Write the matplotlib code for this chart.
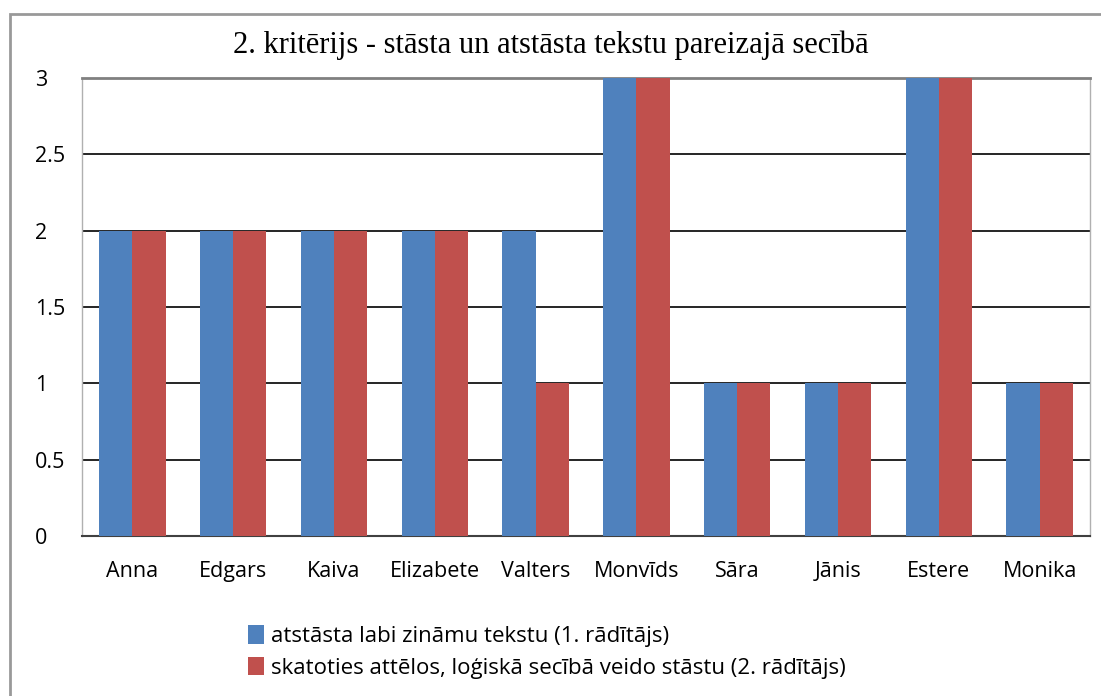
import numpy as np
import matplotlib.pyplot as plt
from matplotlib.patches import Rectangle

names = ["Anna", "Edgars", "Kaiva", "Elizabete", "Valters",
         "Monvīds", "Sāra", "Jānis", "Estere", "Monika"]
radit1 = [2, 2, 2, 2, 2, 3, 1, 1, 3, 1]
radit2 = [2, 2, 2, 2, 1, 3, 1, 1, 3, 1]
label1 = "atstāsta labi zināmu tekstu (1. rādītājs)"
label2 = "skatoties attēlos, loģiskā secībā veido stāstu (2. rādītājs)"
title = "2. kritērijs - stāsta un atstāsta tekstu pareizajā secībā"

sans = ["Open Sans", "DejaVu Sans"]

fig = plt.figure(figsize=(11.01, 6.96), dpi=100)
W, H = 1101, 696

# outer chart frame (cut off at right and bottom)
fig.patches.append(Rectangle((10 / W, -0.1), 1.2, 1 - 14 / H + 0.1,
                             transform=fig.transFigure, fill=False,
                             edgecolor="#999999", linewidth=2))

ax = fig.add_axes([82 / W, 1 - 536 / H, (1090 - 82) / W, (536 - 78) / H])

x = np.arange(len(names))
w = 0.33
ax.bar(x - w / 2, radit1, w, color="#4F81BD", label=label1, zorder=3)
ax.bar(x + w / 2, radit2, w, color="#C0504D", label=label2, zorder=3)

ax.set_xlim(-0.5, len(names) - 0.5)
ax.set_ylim(0, 3)
ax.set_yticks([0, 0.5, 1, 1.5, 2, 2.5, 3])
ax.set_yticklabels(["0", "0.5", "1", "1.5", "2", "2.5", "3"], family=sans,
                   fontsize=15.5, ha="left")
ax.set_xticks(x)
ax.set_xticklabels(names, family=sans, fontsize=15.5)
ax.tick_params(axis="y", length=0, pad=34)
ax.tick_params(axis="x", length=0, pad=18)
ax.grid(axis="y", color="black", linewidth=1.2, zorder=1)

for s in ["left", "right"]:
    ax.spines[s].set_color("#b0b0b0")
    ax.spines[s].set_linewidth(1)
ax.spines["top"].set_color("#808080")
ax.spines["top"].set_linewidth(2)
ax.spines["bottom"].set_color("#404040")
ax.spines["bottom"].set_linewidth(1.5)

fig.text(0.5, 1 - 45 / H, title, ha="center", va="center",
         family="Liberation Serif", fontsize=22)

fig.legend(loc="upper left", bbox_to_anchor=(237 / W, 1 - 614 / H),
           frameon=False, prop={"family": sans, "size": 16},
           handlelength=0.7, handleheight=0.9, handletextpad=0.35,
           labelspacing=0.45, borderpad=0)

fig.savefig("out.png", dpi=100)
